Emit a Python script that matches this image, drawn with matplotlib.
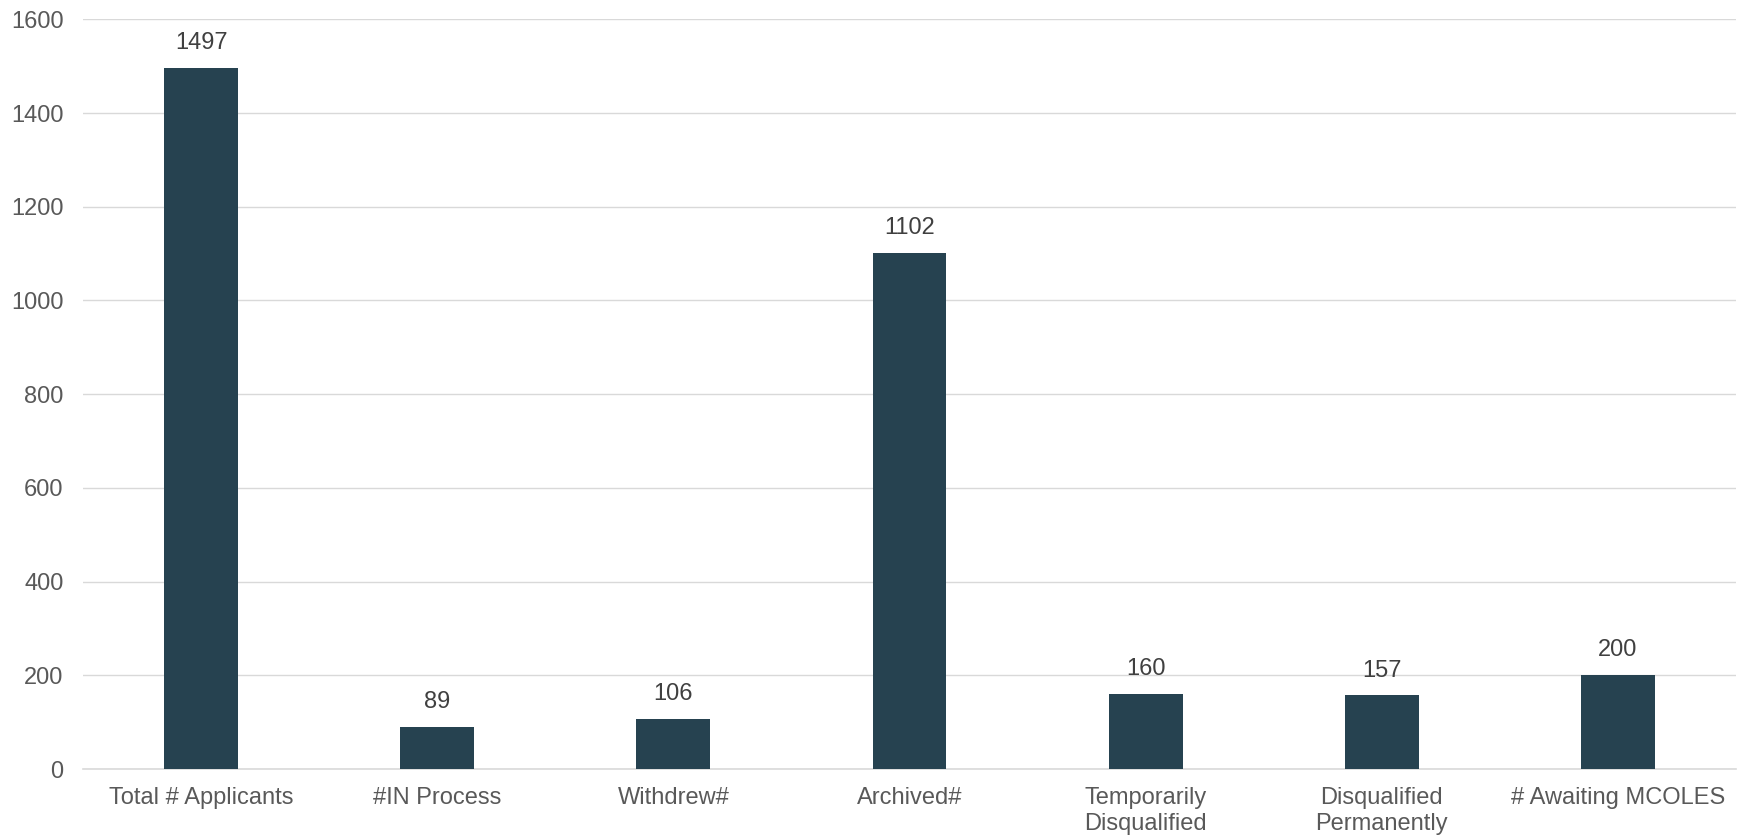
from matplotlib import pyplot as plt

# Data
categories = ['Total # Applicants', '#IN Process', 'Withdrew#', 'Archived#',
              'Temporarily\nDisqualified', 'Disqualified\nPermanently',
              '# Awaiting MCOLES']
counts = [1497, 89, 106, 1102, 160, 157, 200]
y_ticks = [0, 200, 400, 600, 800, 1000, 1200, 1400, 1600]


def main():
    plt.rcParams['font.family'] = ['Liberation Sans', 'DejaVu Sans']

    fig = plt.figure(figsize=(17.44, 8.39), dpi=100)
    ax = fig.add_axes([0.0476, 0.0834, 0.9478, 0.8936])

    x = range(len(categories))
    bars = ax.bar(x, counts, width=0.313, color='#264250', zorder=3)

    # value labels above bars
    for rect, val in zip(bars, counts):
        ax.annotate(str(val), (rect.get_x() + rect.get_width() / 2, val),
                    xytext=(0, 10), textcoords='offset points',
                    ha='center', va='bottom', fontsize=17, color='#404040')

    ax.set_xlim(-0.5, len(categories) - 0.5)
    ax.set_ylim(0, 1600)
    ax.set_yticks(y_ticks)
    ax.set_xticks(list(x))
    ax.set_xticklabels(categories, linespacing=1.22)

    ax.yaxis.grid(True, color='#d9d9d9', linewidth=1.0, zorder=0)
    for side in ['top', 'right', 'left']:
        ax.spines[side].set_visible(False)
    ax.spines['bottom'].set_color('#d9d9d9')
    ax.spines['bottom'].set_linewidth(1.2)

    ax.tick_params(axis='y', length=0, pad=14, labelsize=17,
                   labelcolor='#595959')
    ax.tick_params(axis='x', length=0, pad=13, labelsize=17,
                   labelcolor='#595959')

    fig.savefig('out.png', dpi=100)


if __name__ == "__main__":
    main()
